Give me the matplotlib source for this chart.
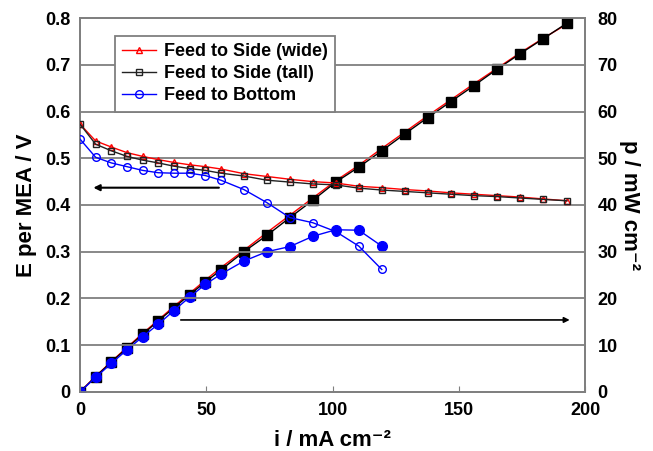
import numpy as np
import matplotlib
matplotlib.use('Agg')
import matplotlib.pyplot as plt

plt.rcParams['font.family'] = ['Liberation Sans', 'DejaVu Sans']
plt.rcParams['font.weight'] = 'bold'

# current density (mA cm-2) for the side-fed cells and the bottom-fed cell
i_side = [0, 6.2, 12.4, 18.6, 24.8, 31.0, 37.2, 43.4, 49.6, 55.8, 64.9, 74.0, 83.1,
          92.2, 101.3, 110.4, 119.5, 128.6, 137.7, 146.8, 155.9, 165.0, 174.1, 183.2, 192.8]
i_bottom = [0, 6.2, 12.4, 18.6, 24.8, 31.0, 37.2, 43.4, 49.6, 55.8, 64.9, 74.0, 83.1,
            92.2, 101.3, 110.4, 119.5]

# cell voltage per MEA (V)
E_wide = [0.573, 0.537, 0.524, 0.512, 0.504, 0.497, 0.491, 0.486, 0.482, 0.477, 0.467,
          0.461, 0.455, 0.450, 0.447, 0.440, 0.437, 0.433, 0.430, 0.426, 0.423, 0.420,
          0.417, 0.413, 0.409]
E_tall = [0.573, 0.530, 0.516, 0.504, 0.496, 0.490, 0.483, 0.478, 0.474, 0.468, 0.462,
          0.453, 0.449, 0.445, 0.443, 0.436, 0.432, 0.429, 0.426, 0.423, 0.420, 0.418,
          0.415, 0.412, 0.409]
E_bottom = [0.541, 0.502, 0.490, 0.482, 0.474, 0.469, 0.468, 0.468, 0.463, 0.453, 0.433,
            0.405, 0.373, 0.362, 0.343, 0.312, 0.262]

# power density (mW cm-2)
p_wide = [0, 3.33, 6.50, 9.52, 12.5, 15.4, 18.3, 21.1, 23.9, 26.6, 30.3, 34.1, 37.8,
          41.5, 45.2, 48.5, 52.1, 55.6, 59.1, 62.5, 65.9, 69.2, 72.5, 75.6, 78.7]
p_tall = [0, 3.29, 6.40, 9.37, 12.3, 15.2, 18.0, 20.8, 23.5, 26.1, 30.0, 33.5, 37.3,
          41.0, 44.9, 48.1, 51.6, 55.2, 58.7, 62.1, 65.5, 69.0, 72.3, 75.5, 78.9]
p_bottom = [0, 3.1, 6.1, 9.0, 11.8, 14.5, 17.4, 20.3, 23.0, 25.2, 28.0, 30.0, 31.1,
            33.3, 34.7, 34.6, 31.2]

labels = ['Feed to Side (wide)', 'Feed to Side (tall)', 'Feed to Bottom']

grey = '#7f7f7f'

fig = plt.figure(figsize=(6.53, 4.51), dpi=100)
ax = fig.add_axes([0.1225, 0.131, 0.7735, 0.829])
ax2 = ax.twinx()

ax.plot(i_side, E_wide, color='red', lw=1, marker='^', ms=5, mfc='none', mew=1,
        label=labels[0], zorder=3)
ax.plot(i_side, E_tall, color='#222222', lw=1, marker='s', ms=5, mfc='none', mew=1,
        label=labels[1], zorder=4)
ax.plot(i_bottom, E_bottom, color='blue', lw=1, marker='o', ms=5.5, mfc='none', mew=1,
        label=labels[2], zorder=5)

ax2.plot(i_side, p_wide, color='red', lw=1, marker='^', ms=5, zorder=3)
ax2.plot(i_side, p_tall, color='black', lw=1, marker='s', ms=6.5, zorder=4)
ax2.plot(i_bottom, p_bottom, color='blue', lw=1, marker='o', ms=7, zorder=5)

ax.set_xlim(0, 200)
ax.set_ylim(0, 0.8)
ax2.set_ylim(0, 80)
ax.set_xticks([0, 50, 100, 150, 200])
ax.set_yticks(np.arange(0, 0.81, 0.1))
ax.set_yticklabels(['0'] + ['%.1f' % v for v in np.arange(0.1, 0.81, 0.1)])
ax2.set_yticks(range(0, 81, 10))

for y in np.arange(0.1, 0.75, 0.1):
    ax.axhline(y, color=grey, lw=1.3, zorder=1)

for a in (ax, ax2):
    for s in a.spines.values():
        s.set_color(grey)
        s.set_linewidth(1.3)
ax.tick_params(axis='x', direction='in', length=4, color=grey, labelsize=13, pad=7)
ax.tick_params(axis='y', length=0, labelsize=13, pad=7)
ax2.tick_params(axis='y', length=0, labelsize=13, pad=9)

ax.set_xlabel('i / mA cm⁻²', fontsize=16, fontweight='bold', labelpad=8)
ax.set_ylabel('E per MEA / V', fontsize=16, fontweight='bold', labelpad=6)
ax2.set_ylabel('p / mW cm⁻²', fontsize=16, fontweight='bold',
               rotation=270, labelpad=16)

# arrows pointing to the relevant axis
ax.annotate('', xy=(4.2, 0.437), xytext=(56.1, 0.437),
            arrowprops=dict(arrowstyle='-|>', color='black', lw=1.5, mutation_scale=9))
ax2.annotate('', xy=(195, 15.4), xytext=(38.8, 15.4),
             arrowprops=dict(arrowstyle='-|>', color='black', lw=1.2, mutation_scale=8))

leg = ax.legend(loc='upper left', bbox_to_anchor=(0.069, 0.952), borderaxespad=0,
                fontsize=13, handlelength=1.9, handletextpad=0.4, borderpad=0.4,
                labelspacing=0.28, fancybox=False, framealpha=1, edgecolor=grey)
leg.get_frame().set_linewidth(1.3)
for t in leg.get_texts():
    t.set_fontweight('bold')
leg.set_zorder(10)
ax.set_zorder(ax2.get_zorder() + 1)
ax.patch.set_visible(False)

fig.savefig('out.png', dpi=100)
